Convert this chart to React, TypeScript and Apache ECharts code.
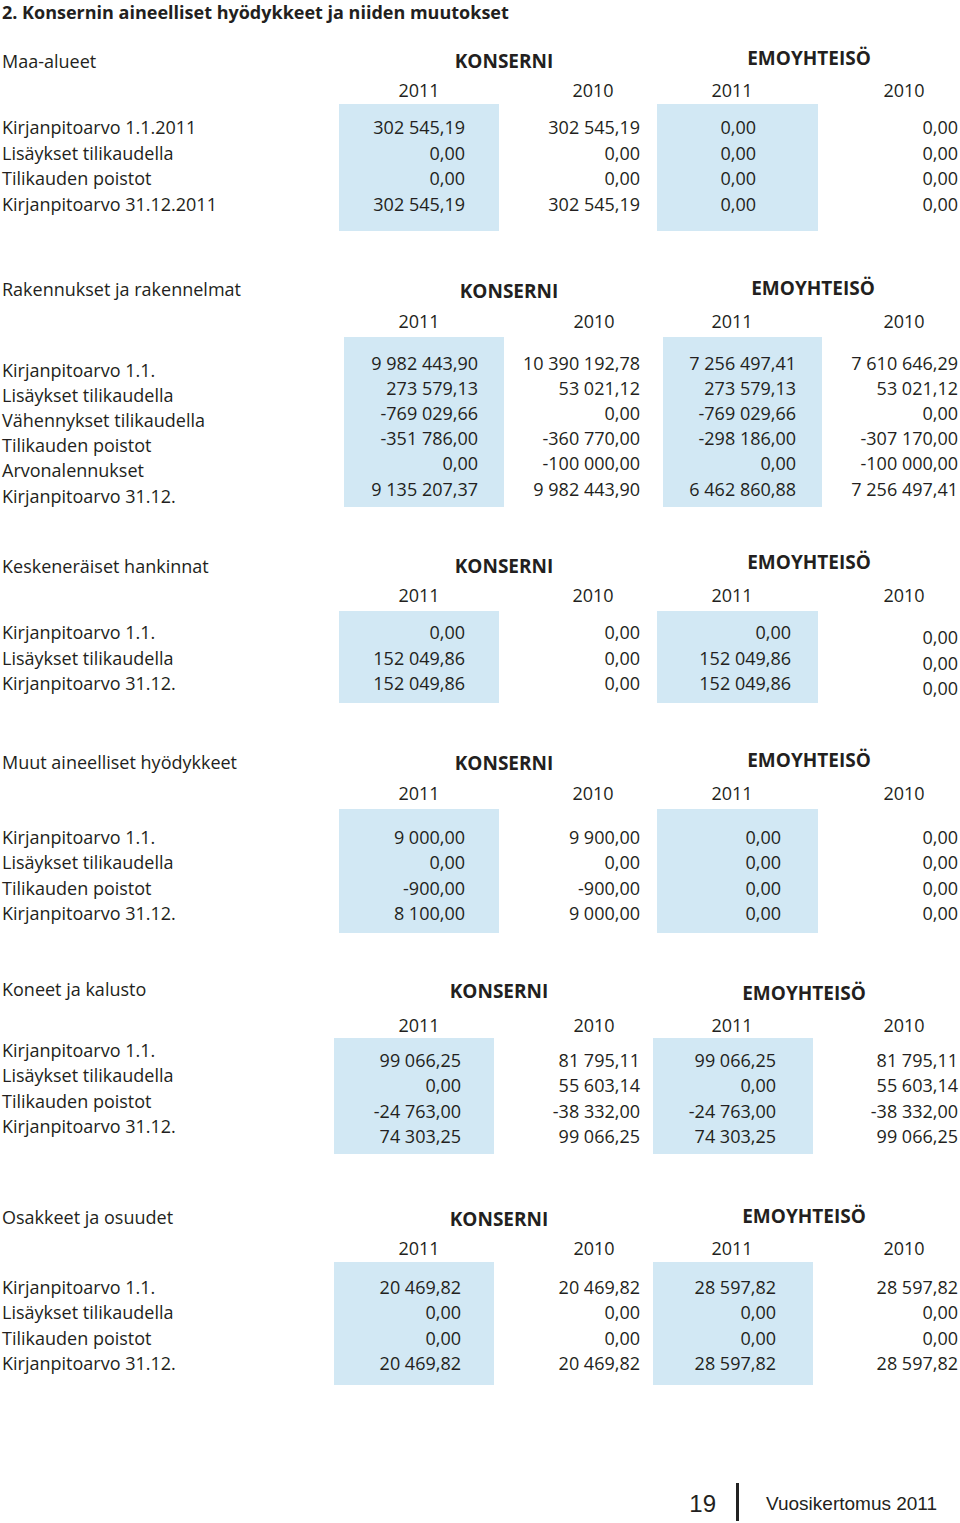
import React, { useEffect, useRef } from "react";
import * as echarts from "echarts";

// ---------- DATA ----------
const pageTitle = "2. Konsernin aineelliset hyödykkeet ja niiden muutokset";
const groupHeaders = ["KONSERNI", "EMOYHTEISÖ"];
const yearLabels = ["2011", "2010", "2011", "2010"];

const maaTitle = "Maa-alueet";
const maaRows = ["Kirjanpitoarvo 1.1.2011", "Lisäykset tilikaudella", "Tilikauden poistot", "Kirjanpitoarvo 31.12.2011"];
const maaKonserni2011 = [302545.19, 0, 0, 302545.19];
const maaKonserni2010 = [302545.19, 0, 0, 302545.19];
const maaEmo2011 = [0, 0, 0, 0];
const maaEmo2010 = [0, 0, 0, 0];

const rakTitle = "Rakennukset ja rakennelmat";
const rakRows = ["Kirjanpitoarvo 1.1.", "Lisäykset tilikaudella", "Vähennykset tilikaudella", "Tilikauden poistot", "Arvonalennukset", "Kirjanpitoarvo 31.12."];
const rakKonserni2011 = [9982443.9, 273579.13, -769029.66, -351786.0, 0, 9135207.37];
const rakKonserni2010 = [10390192.78, 53021.12, 0, -360770.0, -100000.0, 9982443.9];
const rakEmo2011 = [7256497.41, 273579.13, -769029.66, -298186.0, 0, 6462860.88];
const rakEmo2010 = [7610646.29, 53021.12, 0, -307170.0, -100000.0, 7256497.41];

const kesTitle = "Keskeneräiset hankinnat";
const kesRows = ["Kirjanpitoarvo 1.1.", "Lisäykset tilikaudella", "Kirjanpitoarvo 31.12."];
const kesKonserni2011 = [0, 152049.86, 152049.86];
const kesKonserni2010 = [0, 0, 0];
const kesEmo2011 = [0, 152049.86, 152049.86];
const kesEmo2010 = [0, 0, 0];

const muuTitle = "Muut aineelliset hyödykkeet";
const muuRows = ["Kirjanpitoarvo 1.1.", "Lisäykset tilikaudella", "Tilikauden poistot", "Kirjanpitoarvo 31.12."];
const muuKonserni2011 = [9000.0, 0, -900.0, 8100.0];
const muuKonserni2010 = [9900.0, 0, -900.0, 9000.0];
const muuEmo2011 = [0, 0, 0, 0];
const muuEmo2010 = [0, 0, 0, 0];

const konTitle = "Koneet ja kalusto";
const konRows = ["Kirjanpitoarvo 1.1.", "Lisäykset tilikaudella", "Tilikauden poistot", "Kirjanpitoarvo 31.12."];
const konKonserni2011 = [99066.25, 0, -24763.0, 74303.25];
const konKonserni2010 = [81795.11, 55603.14, -38332.0, 99066.25];
const konEmo2011 = [99066.25, 0, -24763.0, 74303.25];
const konEmo2010 = [81795.11, 55603.14, -38332.0, 99066.25];

const osaTitle = "Osakkeet ja osuudet";
const osaRows = ["Kirjanpitoarvo 1.1.", "Lisäykset tilikaudella", "Tilikauden poistot", "Kirjanpitoarvo 31.12."];
const osaKonserni2011 = [20469.82, 0, 0, 20469.82];
const osaKonserni2010 = [20469.82, 0, 0, 20469.82];
const osaEmo2011 = [28597.82, 0, 0, 28597.82];
const osaEmo2010 = [28597.82, 0, 0, 28597.82];

const footerPage = "19";
const footerText = "Vuosikertomus 2011";

// ---------- LAYOUT (positions / styles) ----------
type Layout = {
  titleY: number;
  konsX: number; konsY: number;
  emoX: number; emoY: number;
  yearY: number;
  yearX: number[];
  rect1: [number, number]; rect3: [number, number];
  rectY: [number, number];
  labelY0: number;
  valY0: number[];
  colRight: number[];
  step: number;
};

const sections = [
  { title: maaTitle, rows: maaRows, cols: [maaKonserni2011, maaKonserni2010, maaEmo2011, maaEmo2010] },
  { title: rakTitle, rows: rakRows, cols: [rakKonserni2011, rakKonserni2010, rakEmo2011, rakEmo2010] },
  { title: kesTitle, rows: kesRows, cols: [kesKonserni2011, kesKonserni2010, kesEmo2011, kesEmo2010] },
  { title: muuTitle, rows: muuRows, cols: [muuKonserni2011, muuKonserni2010, muuEmo2011, muuEmo2010] },
  { title: konTitle, rows: konRows, cols: [konKonserni2011, konKonserni2010, konEmo2011, konEmo2010] },
  { title: osaTitle, rows: osaRows, cols: [osaKonserni2011, osaKonserni2010, osaEmo2011, osaEmo2010] },
];

const layouts: Layout[] = [
  { titleY: 61, konsX: 504, konsY: 61, emoX: 809, emoY: 58, yearY: 90, yearX: [419, 593, 732, 904],
    rect1: [339, 499], rect3: [657, 818], rectY: [104, 231], labelY0: 127, valY0: [127, 127, 127, 127],
    colRight: [465, 640, 756, 958], step: 25.5 },
  { titleY: 289, konsX: 509, konsY: 291, emoX: 813, emoY: 288, yearY: 321, yearX: [419, 594, 732, 904],
    rect1: [344, 504], rect3: [663, 822], rectY: [337, 507], labelY0: 370, valY0: [363, 363, 363, 363],
    colRight: [478, 640, 796, 958], step: 25.1 },
  { titleY: 566, konsX: 504, konsY: 566, emoX: 809, emoY: 562, yearY: 595, yearX: [419, 593, 732, 904],
    rect1: [339, 499], rect3: [657, 818], rectY: [611, 703], labelY0: 632, valY0: [632, 632, 632, 637],
    colRight: [465, 640, 791, 958], step: 25.5 },
  { titleY: 762, konsX: 504, konsY: 763, emoX: 809, emoY: 760, yearY: 793, yearX: [419, 593, 732, 904],
    rect1: [339, 499], rect3: [657, 818], rectY: [809, 933], labelY0: 837, valY0: [837, 837, 837, 837],
    colRight: [465, 640, 781, 958], step: 25.4 },
  { titleY: 989, konsX: 499, konsY: 991, emoX: 804, emoY: 993, yearY: 1025, yearX: [419, 594, 732, 904],
    rect1: [334, 494], rect3: [653, 813], rectY: [1038, 1154], labelY0: 1050, valY0: [1060, 1060, 1060, 1060],
    colRight: [461, 640, 776, 958], step: 25.4 },
  { titleY: 1217, konsX: 499, konsY: 1219, emoX: 804, emoY: 1216, yearY: 1248, yearX: [419, 594, 732, 904],
    rect1: [334, 494], rect3: [653, 813], rectY: [1262, 1385], labelY0: 1287, valY0: [1287, 1287, 1287, 1287],
    colRight: [461, 640, 776, 958], step: 25.4 },
];

const FONT = "'Open Sans', 'Noto Sans', sans-serif";
const TEXT = "#231f20";
const BLUE = "#d2e8f4";
const FS = 18;

function fmt(n: number): string {
  const neg = n < 0;
  const abs = Math.abs(n);
  const [ip, dp] = abs.toFixed(2).split(".");
  const grouped = ip.replace(/\B(?=(\d{3})+(?!\d))/g, " ");
  return (neg ? "-" : "") + grouped + "," + dp;
}

function txt(x: number, y: number, text: string, opts: any = {}) {
  return {
    type: "text",
    x,
    y,
    silent: true,
    style: {
      text,
      fill: opts.fill || TEXT,
      font: `${opts.weight || "normal"} ${opts.size || FS}px ${opts.family || FONT}`,
      textAlign: opts.align || "left",
      textVerticalAlign: "middle",
    },
  };
}

function buildGraphics() {
  const els: any[] = [];
  els.push(txt(2, 12, pageTitle, { weight: "bold", size: 18 }));
  sections.forEach((s, i) => {
    const L = layouts[i];
    els.push({ type: "rect", silent: true, shape: { x: L.rect1[0], y: L.rectY[0], width: L.rect1[1] - L.rect1[0], height: L.rectY[1] - L.rectY[0] }, style: { fill: BLUE } });
    els.push({ type: "rect", silent: true, shape: { x: L.rect3[0], y: L.rectY[0], width: L.rect3[1] - L.rect3[0], height: L.rectY[1] - L.rectY[0] }, style: { fill: BLUE } });
    els.push(txt(2, L.titleY, s.title));
    els.push(txt(L.konsX, L.konsY, groupHeaders[0], { weight: "bold", align: "center", size: 19 }));
    els.push(txt(L.emoX, L.emoY, groupHeaders[1], { weight: "bold", align: "center", size: 19 }));
    yearLabels.forEach((yl, k) => els.push(txt(L.yearX[k], L.yearY, yl, { align: "center" })));
    s.rows.forEach((r, j) => {
      els.push(txt(2, L.labelY0 + j * L.step, r));
      s.cols.forEach((col, k) => {
        els.push(txt(L.colRight[k], L.valY0[k] + j * L.step, fmt(col[j]), { align: "right" }));
      });
    });
  });
  // footer
  els.push(txt(716, 1503, footerPage, { size: 24, family: "'Liberation Sans', Arial, sans-serif", align: "right" }));
  els.push({ type: "rect", silent: true, shape: { x: 736, y: 1483, width: 3, height: 38 }, style: { fill: "#222" } });
  els.push(txt(766, 1503, footerText, { size: 19, family: "'Liberation Sans', Arial, sans-serif" }));
  return els;
}

export default function App() {
  const ref = useRef<HTMLDivElement>(null);
  useEffect(() => {
    if (!ref.current) return;
    const chart = echarts.init(ref.current, undefined, { renderer: "svg" });
    chart.setOption({
      animation: false,
      backgroundColor: "#ffffff",
      graphic: { elements: buildGraphics() },
    });
    return () => chart.dispose();
  }, []);
  return <div ref={ref} style={{ width: 960, height: 1523, position: "absolute", left: 0, top: 0 }} />;
}
